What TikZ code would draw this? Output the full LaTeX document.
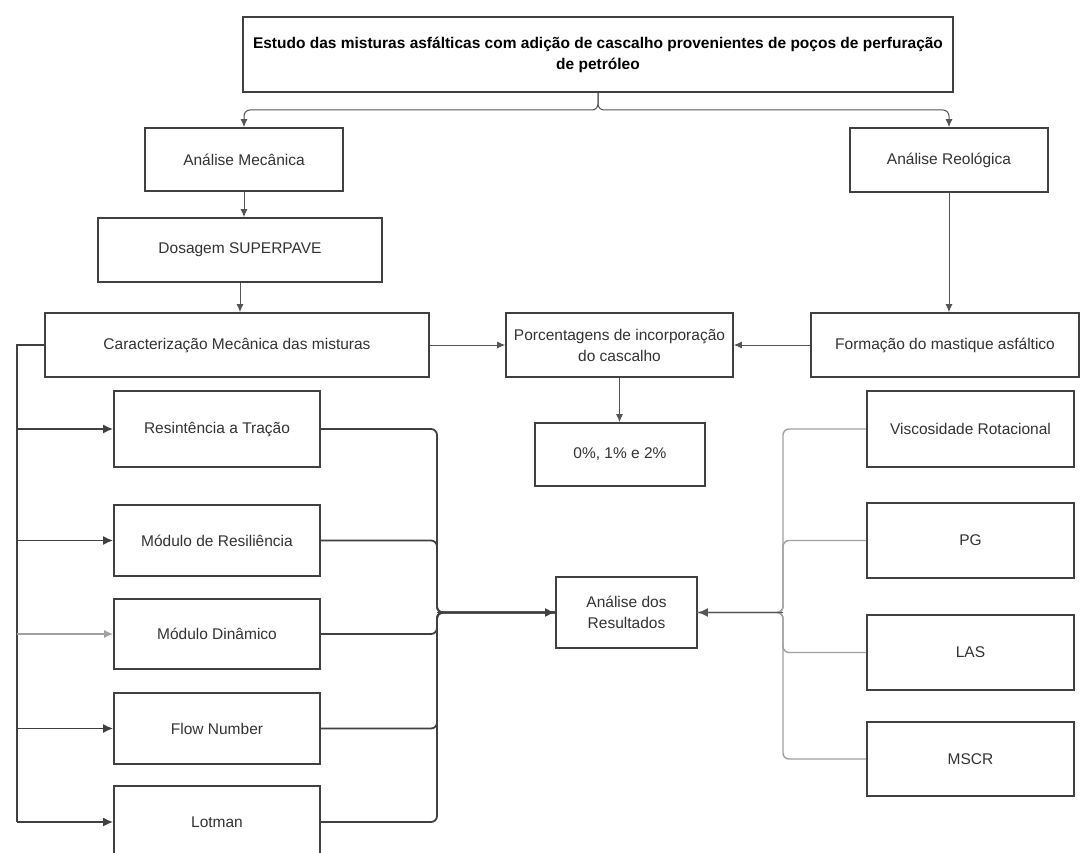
\documentclass[tikz,border=0pt]{standalone}
\usepackage{fontspec}
\setmainfont{Liberation Sans}
\usetikzlibrary{arrows.meta}
\definecolor{bx}{HTML}{404040}
\definecolor{tx}{HTML}{333333}
\definecolor{ln}{HTML}{555555}
\definecolor{lg}{HTML}{A0A0A0}
\tikzset{
  box/.style={draw=bx, line width=1.7pt, inner sep=0pt, align=center, text=tx,
    font=\fontsize{15.5}{21}\selectfont},
  thinarrow/.style={draw=ln, line width=1pt, -{Latex[length=8pt,width=7pt]}},
  thickarrow/.style={draw=bx, line width=1.8pt, -{Latex[length=10pt,width=9pt]}},
  thickline/.style={draw=bx, line width=1.8pt},
  grayline/.style={draw=lg, line width=1.4pt},
}
\begin{document}
\begin{tikzpicture}[x=1pt,y=-1pt]
\useasboundingbox (0,0) rectangle (1082,853);
\fill[white] (0,0) rectangle (1082,853);
\clip (0,0) rectangle (1082,853);

% nodes
\node[box, minimum width=710, minimum height=75, font=\fontsize{15.5}{21}\selectfont\bfseries, text=black] (top) at (598,54.5)
  {Estudo das misturas asfálticas com adição de cascalho provenientes de poços de perfuração\\de petróleo};
\node[box, minimum width=198, minimum height=63] (mec) at (244,159.5) {Análise Mecânica};
\node[box, minimum width=198, minimum height=64] (reo) at (949,160) {Análise Reológica};
\node[box, minimum width=284, minimum height=64] (dos) at (240,250) {Dosagem SUPERPAVE};
\node[box, minimum width=384, minimum height=64] (car) at (237,345) {Caracterização Mecânica das misturas};
\node[box, minimum width=227, minimum height=64] (por) at (619.5,345) {Porcentagens de incorporação\\do cascalho};
\node[box, minimum width=268, minimum height=64] (for) at (945,345) {Formação do mastique asfáltico};
\node[box, minimum width=170, minimum height=63] (zero) at (620,454.5) {0\%, 1\% e 2\%};
\node[box, minimum width=206, minimum height=76] (res) at (217,429) {Resintência a Tração};
\node[box, minimum width=206, minimum height=71] (mres) at (217,540.5) {Módulo de Resiliência};
\node[box, minimum width=206, minimum height=70] (din) at (217,634) {Módulo Dinâmico};
\node[box, minimum width=206, minimum height=71] (flow) at (217,728.5) {Flow Number};
\node[box, minimum width=206, minimum height=72] (lot) at (217,822) {Lotman};
\node[box, minimum width=141, minimum height=71] (ana) at (626.5,612.5) {Análise dos\\Resultados};
\node[box, minimum width=207, minimum height=76] (vis) at (970.5,429) {Viscosidade Rotacional};
\node[box, minimum width=207, minimum height=75] (pg) at (970.5,540.5) {PG};
\node[box, minimum width=207, minimum height=75] (las) at (970.5,652.5) {LAS};
\node[box, minimum width=207, minimum height=74] (mscr) at (970.5,759) {MSCR};

% helper coordinates
\coordinate (br) at (598,110);
\coordinate (lx) at (17,345);
\coordinate (lend) at (17,822);
\coordinate (mx) at (437,612.5);
\coordinate (rx) at (783,612.5);

% top brace
\draw[thinarrow, rounded corners=6pt] (top.south) |- (mec.north |- br) -- (mec.north);
\draw[thinarrow, rounded corners=6pt] (top.south) |- (reo.north |- br) -- (reo.north);

% vertical chain
\draw[thinarrow] (mec.south) -- (mec.south |- dos.north);
\draw[thinarrow] (dos.south) -- (dos.south |- car.north);
\draw[thinarrow] (reo.south) -- (reo.south |- for.north);
\draw[thinarrow] (car.east) -- (por.west);
\draw[thinarrow] (for.west) -- (por.east);
\draw[thinarrow] (por.south) -- (por.south |- zero.north);

% left distribution
\draw[thickline] (car.west) -- (lx) -- (lend);
\draw[thickarrow] (lx |- res.west) -- (res.west);
\draw[thickarrow] (lx |- mres.west) -- (mres.west);
\draw[draw=lg, line width=1.3pt, -{Latex[length=9pt,width=8pt]}] (lx |- din.west) -- (din.west);
\draw[thickarrow] (lx |- flow.west) -- (flow.west);
\draw[thickarrow] (lx |- lot.west) -- (lot.west);

% left merge
\foreach \n in {res,mres,din,flow,lot}
  \draw[thickline, rounded corners=6pt] (\n.east) -| (mx) -- (ana.west);
\draw[thickarrow] (mx) -- (ana.west);

% right merge
\foreach \n in {vis,pg,las,mscr}
  \draw[grayline, rounded corners=6pt] (\n.west) -| (rx) -- (ana.east);
\draw[draw=ln, line width=1.5pt, -{Latex[length=10pt,width=9pt]}] (rx) -- (ana.east);
\end{tikzpicture}
\end{document}
